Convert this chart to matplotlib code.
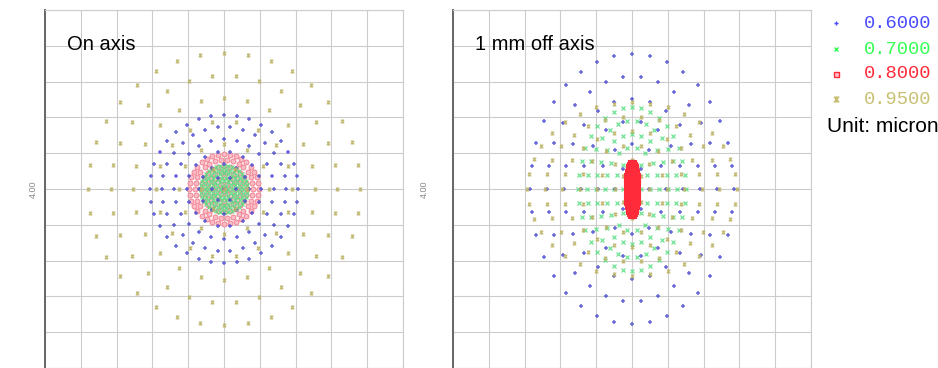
#!/usr/bin/env python3

import numpy as np
import matplotlib.pyplot as plt
from matplotlib.lines import Line2D
from matplotlib.path import Path

plt.rcParams['font.family'] = ['Liberation Sans', 'DejaVu Sans']

#### ========== Spot data ==========

# Wavelengths [micron] and colours
waveLabels = [ '0.6000', '0.7000', '0.8000', '0.9500' ]
markColors = [ '#5050d0', '#55e080', '#f04a60', '#bdb468' ]
textColors = [ '#4a4aff', '#33ff55', '#ff2a3a', '#c8c070' ]

# Hexapolar pupil sampling: relative ring radius and rays per ring
ringRho   = [ 0.0, 0.167, 0.333, 0.500, 0.667, 0.833, 1.000 ]
ringCount = [ 1, 6, 12, 18, 24, 30, 36 ]

# Spot semi-axes (x, y) [micron] for each wavelength
onAxisSize  = [ ( 0.83, 0.83 ), ( 0.26, 0.26 ), ( 0.39, 0.39 ), ( 1.52, 1.52 ) ]
offAxisSize = [ ( 1.14, 1.51 ), ( 0.60, 0.92 ), ( 0.06, 0.29 ), ( 1.17, 0.97 ) ]

panelTitles = [ 'On axis', '1 mm off axis' ]
boxSize = 4.00

#### ====== End of spot data =======

hourglass = Path( [ ( -1, 1 ), ( 1, 1 ), ( -1, -1 ), ( 1, -1 ), ( -1, 1 ) ] )
markers  = [ '+', 'x', 's', hourglass ]
msizes   = [ 2.4, 2.4, 3.6, 2.0 ]
mwidths  = [ 1.1, 0.9, 0.6, 0.9 ]

# red spot sits under the others on axis, on top of them off axis
drawOrder = [ [ 2, 1, 0, 3 ], [ 1, 0, 3, 2 ] ]

def SpotPoints( sx, sy ):
    x = []
    y = []
    for rho, n in zip( ringRho, ringCount ):
        th = 2.0 * np.pi * np.arange( n ) / n
        x.extend( sx * rho * np.cos( th ) )
        y.extend( sy * rho * np.sin( th ) )
    return np.array( x ), np.array( y )

W, H = 938, 368
fig = plt.figure( figsize = ( W / 100, H / 100 ), dpi = 100 )

axLeft = [ 45, 453 ]
axSide = 358

for k, sizes in enumerate( [ onAxisSize, offAxisSize ] ):

    ax = fig.add_axes( [ axLeft[k] / W, 0.0, axSide / W, axSide / H ] )

    h = boxSize / 2
    ax.set_xlim( -h, h )
    ax.set_ylim( -h, h )
    ax.set_xticks( np.linspace( -h, h, 11 ) )
    ax.set_yticks( np.linspace( -h, h, 11 ) )
    ax.set_xticklabels( [] )
    ax.set_yticklabels( [] )
    ax.tick_params( length = 0 )
    ax.set_yticks( [ h ], minor = True )
    ax.tick_params( which = 'minor', axis = 'y', length = 3, width = 1.2,
                    color = '#666666' )
    ax.grid( True, color = '#cccccc', lw = 0.8 )
    ax.set_axisbelow( True )
    for s in [ 'top', 'right', 'bottom' ]:
        ax.spines[s].set_color( '#cccccc' )
        ax.spines[s].set_linewidth( 0.8 )
    ax.spines['left'].set_color( '#666666' )
    ax.spines['left'].set_linewidth( 1.4 )

    for i in drawOrder[k]:
        px, py = SpotPoints( *sizes[i] )
        if i == 2:
            if k == 0:
                ax.plot( px, py, ls = 'none', marker = 'o', ms = 3.6,
                         mew = 0.6, mfc = '#f9bcc6', mec = '#f27888' )
            else:
                ax.plot( px, py, ls = 'none', marker = 's', ms = 3.8,
                         mew = 0.8, mfc = '#ff2a3a', mec = '#ff2a3a' )
        else:
            ax.plot( px, py, ls = 'none', marker = markers[i],
                     ms = msizes[i], mew = mwidths[i],
                     mfc = markColors[i], mec = markColors[i], alpha = 0.85 )

    fig.text( ( axLeft[k] + 22 ) / W, 1 - 50 / H, panelTitles[k],
              fontsize = 14.5, color = 'black', va = 'baseline', ha = 'left' )

    xLab = [ 33, 424 ][k]
    fig.text( xLab / W, 1 - 189 / H, '{:.2f}'.format( boxSize ),
              fontsize = 6.5, color = '#888888', rotation = 90,
              ha = 'center', va = 'center' )

# Wavelength key
keyY = [ 23, 49, 74, 99 ]
for i in range( len( waveLabels ) ):
    y = 1 - keyY[i] / H
    if i == 2:
        mk = Line2D( [ 836 / W ], [ y ], transform = fig.transFigure,
                     ls = 'none', marker = markers[i], ms = 3.6, mew = 1.0,
                     mfc = '#ffc0c8', mec = textColors[i] )
    else:
        mk = Line2D( [ 836 / W ], [ y ], transform = fig.transFigure,
                     ls = 'none', marker = markers[i], ms = 3.4, mew = 1.0,
                     mfc = textColors[i], mec = textColors[i] )
    fig.add_artist( mk )
    fig.text( 864 / W, y, waveLabels[i], family = 'Liberation Mono',
              fontsize = 13.5, color = textColors[i], ha = 'left',
              va = 'center' )

fig.text( 827 / W, 1 - 132 / H, 'Unit: micron', fontsize = 15,
          color = 'black', ha = 'left', va = 'baseline' )

plt.savefig( 'out.png', dpi = 100 )
plt.close()
